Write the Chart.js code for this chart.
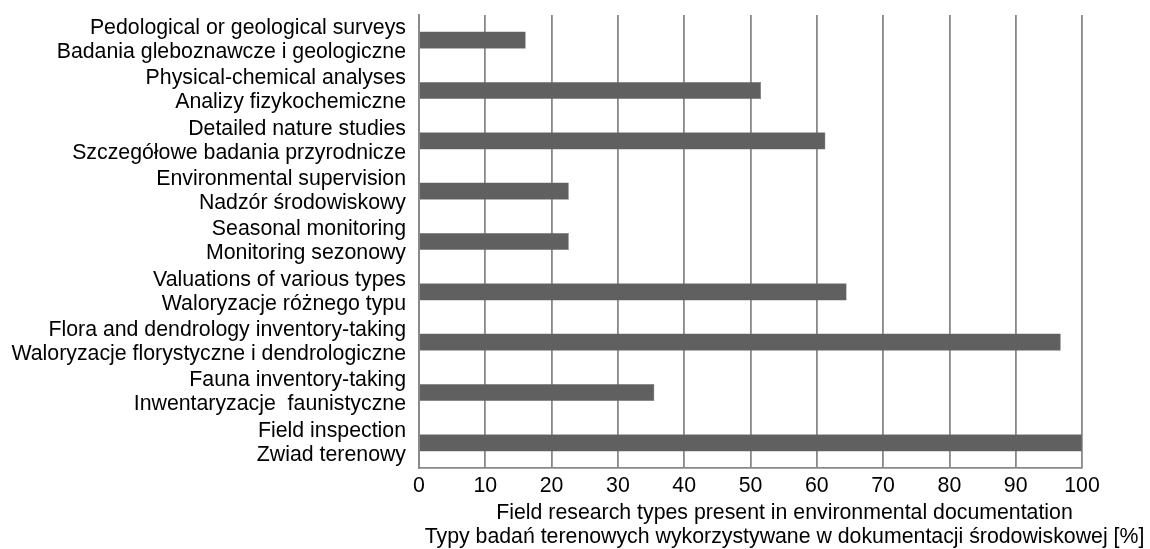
<!DOCTYPE html>
<html>
<head>
<meta charset="utf-8">
<script src="https://cdn.jsdelivr.net/npm/chart.js@4/dist/chart.umd.min.js"></script>
<style>
  html, body { margin: 0; padding: 0; background: #fff; }
  #wrap { width: 1150px; height: 549px; }
</style>
</head>
<body>
<div id="wrap"><canvas id="myChart"></canvas></div>
<script>
// category labels, english line first, polish line second
var labelsEn = [
  'Pedological or geological surveys',
  'Physical-chemical analyses',
  'Detailed nature studies',
  'Environmental supervision',
  'Seasonal monitoring',
  'Valuations of various types',
  'Flora and dendrology inventory-taking',
  'Fauna inventory-taking',
  'Field inspection'
];
var labelsPl = [
  'Badania gleboznawcze i geologiczne',
  'Analizy fizykochemiczne',
  'Szczegółowe badania przyrodnicze',
  'Nadzór środowiskowy',
  'Monitoring sezonowy',
  'Waloryzacje różnego typu',
  'Waloryzacje florystyczne i dendrologiczne',
  'Inwentaryzacje  faunistyczne',
  'Zwiad terenowy'
];
// share of documents [%]
var shares = [16.1, 51.6, 61.3, 22.6, 22.6, 64.5, 96.8, 35.5, 100];

var xTicks = [0, 10, 20, 30, 40, 50, 60, 70, 80, 90, 100];
var xTitle = [
  'Field research types present in environmental documentation',
  'Typy badań terenowych wykorzystywane w dokumentacji środowiskowej [%]'
];

var font = { family: "'Liberation Sans', Arial, sans-serif", size: 21.3, lineHeight: 1.13 };
var gridColor = '#888888';

// two line labels for the category axis
var labels = labelsEn.map((en, i) => [en, labelsPl[i]]);

// axis title is centred between plot left edge and canvas right edge
var xTitlePlugin = {
  id: 'xTitle',
  afterDraw(chart) {
    const ctx = chart.ctx;
    const area = chart.chartArea;
    const cx = (area.left + chart.width) / 2;
    ctx.save();
    ctx.font = font.size + 'px ' + font.family;
    ctx.fillStyle = '#000';
    ctx.textAlign = 'center';
    ctx.textBaseline = 'middle';
    xTitle.forEach((line, i) => {
      ctx.fillText(line, cx, area.bottom + 45 + i * 24);
    });
    ctx.restore();
  }
};

new Chart('myChart', {
  type: 'bar',
  data: {
    labels: labels,
    datasets: [{
      data: shares,
      backgroundColor: '#606060',
      borderColor: '#6e6e6e',
      borderWidth: 0.5,
      barPercentage: 0.34,
      categoryPercentage: 1
    }]
  },
  options: {
    indexAxis: 'y',
    responsive: true,
    maintainAspectRatio: false,
    animation: false,
    layout: { padding: { top: 15, right: 68, bottom: 0, left: 0 } },
    plugins: {
      legend: { display: false },
      tooltip: { enabled: false }
    },
    scales: {
      x: {
        min: 0,
        max: 100,
        afterBuildTicks: (scale) => { scale.ticks = xTicks.map(v => ({ value: v })); },
        afterFit: (scale) => { scale.height = 81; },
        grid: { display: true, color: gridColor, lineWidth: 1.8, drawTicks: false },
        border: { display: true, color: gridColor, width: 1.8 },
        ticks: { color: '#000', font: font, padding: 6, maxRotation: 0 }
      },
      y: {
        afterFit: (scale) => {
          scale.width = 419;
          scale.paddingTop = 0;
          scale.paddingBottom = 0;
        },
        grid: { display: false, drawTicks: false },
        border: { display: true, color: gridColor, width: 1.8 },
        ticks: { color: '#000', font: font, padding: 13, autoSkip: false }
      }
    }
  },
  plugins: [xTitlePlugin]
});
</script>
</body>
</html>
